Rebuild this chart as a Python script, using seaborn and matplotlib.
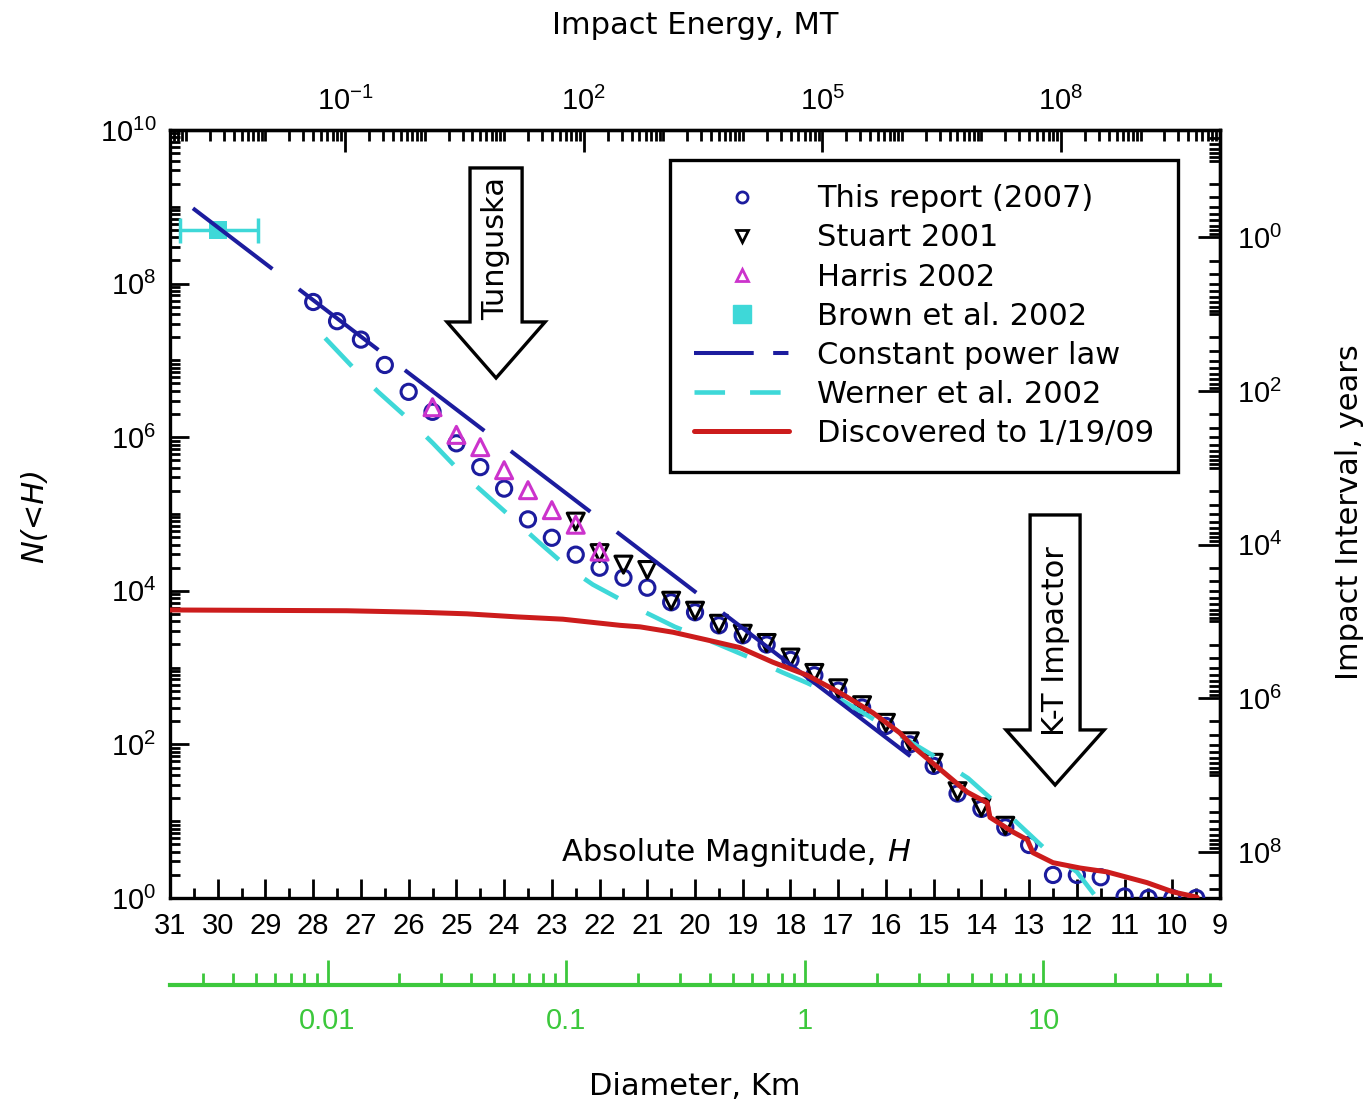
import numpy as np
import matplotlib
matplotlib.use("Agg")
import matplotlib.pyplot as plt
import seaborn as sns
from matplotlib.lines import Line2D
from matplotlib.patches import Polygon
from matplotlib.ticker import FixedLocator, FuncFormatter, NullFormatter

# ---- data (H = absolute magnitude, log10 N(<H)) ----
report_h = [28, 27.5, 27, 26.5, 26, 25.5, 25, 24.5, 24, 23.5, 23, 22.5, 22, 21.5, 21,
            20.5, 20, 19.5, 19, 18.5, 18, 17.5, 17, 16.5, 16, 15.5, 15, 14.5, 14,
            13.5, 13, 12.5, 12, 11.5, 11, 10.5, 10, 9.5]
report_logn = [7.76, 7.51, 7.27, 6.94, 6.59, 6.33, 5.92, 5.61, 5.33, 4.93, 4.69, 4.47, 4.30,
               4.17, 4.04, 3.85, 3.72, 3.55, 3.42, 3.30, 3.10, 2.90, 2.70, 2.48, 2.24,
               2.00, 1.72, 1.36, 1.16, 0.92, 0.69, 0.30, 0.30, 0.27, 0.02, 0.0, 0.0, 0.0]

stuart_h = [22.5, 22, 21.5, 21, 20.5, 20, 19.5, 19, 18.5, 18, 17.5, 17, 16.5, 16,
            15.5, 15, 14.5, 14, 13.5]
stuart_logn = [4.90, 4.49, 4.34, 4.27, 3.87, 3.74, 3.57, 3.44, 3.32, 3.13, 2.93, 2.73,
               2.51, 2.28, 2.04, 1.76, 1.39, 1.18, 0.94]

harris_h = [25.5, 25, 24.5, 24, 23.5, 23, 22.5, 22]
harris_logn = [6.39, 6.03, 5.87, 5.57, 5.31, 5.05, 4.86, 4.51]

brown_h = [30.0]
brown_logn = [8.70]
brown_herr_lo = [0.85]
brown_herr_hi = [0.80]

power_h = [30.52, 15.39]
power_logn = [8.98, 1.80]

werner_h = [27.75, 27.17, 26.64, 26.03, 25.49, 24.92, 24.0, 23.25, 22.68, 22.14, 21.57,
            21.01, 20.42, 19.5, 18.74, 18.18, 17.65, 17.11, 16.5, 15.8, 15.0, 14.28,
            13.72, 13.15, 12.6, 12.0, 11.52]
werner_logn = [7.29, 6.91, 6.59, 6.25, 5.92, 5.55, 5.04, 4.62, 4.31, 4.08, 3.89,
               3.71, 3.53, 3.30, 3.10, 2.94, 2.80, 2.64, 2.42, 2.15, 1.85, 1.56,
               1.25, 0.92, 0.60, 0.34, -0.05]

disc_h = [31, 27.3, 25.76, 24.78, 23.73, 22.77, 21.57, 21.15, 20.46, 19.75, 19.06, 18.37,
          17.65, 16.96, 16.27, 15.71, 15.43, 14.72, 14.30, 13.88, 13.82, 13.34, 13.04,
          12.92, 12.50, 11.93, 11.37, 10.95, 10.53, 9.99, 9.48]
disc_logn = [3.75, 3.74, 3.72, 3.70, 3.66, 3.63, 3.55, 3.53, 3.46, 3.36, 3.26, 3.07,
             2.90, 2.67, 2.41, 2.15, 1.97, 1.60, 1.38, 1.24, 1.05, 0.86, 0.76,
             0.59, 0.46, 0.39, 0.34, 0.27, 0.20, 0.08, 0.01]

labels = ["This report (2007)", "Stuart 2001", "Harris 2002", "Brown et al. 2002",
          "Constant power law", "Werner et al. 2002", "Discovered to 1/19/09"]

# conversions between the axes
ENERGY_ZERO = 15.4      # log10 E(MT) = 15.4 - 0.6 H
DIAM_ZERO = 17.7        # log10 D(km) = (17.7 - H) / 5
INTERVAL_CONST = 10 ** 8.6   # interval (yr) = C / N

navy = "#1c1c9e"
magenta = "#cc33cc"
cyan = "#3ed8d8"
red = "#cc1c1c"
green = "#3cc83c"
TXT = 22   # size of the wide label text

sns.set_style("ticks")
plt.rcParams["font.family"] = ["Liberation Sans", "DejaVu Sans"]
plt.rcParams["mathtext.fontset"] = "custom"
plt.rcParams["mathtext.rm"] = "Liberation Sans"
plt.rcParams["mathtext.it"] = "Liberation Sans:italic"
plt.rcParams["lines.scale_dashes"] = False
plt.rcParams["text.color"] = "black"
plt.rcParams["axes.labelcolor"] = "black"
wide = ["DejaVu Sans"]

fig = plt.figure(figsize=(13.69, 11.04), dpi=100)
ax = fig.add_axes([0.1242, 0.1866, 0.767, 0.6957])
ax.set_yscale("log")
ax.set_xlim(31, 9)
ax.set_ylim(1, 1e10)

tolin = lambda v: 10 ** np.asarray(v, dtype=float)

# markers
sns.scatterplot(x=report_h, y=tolin(report_logn), ax=ax, marker="o", s=120,
                color=navy, facecolor="none", edgecolor=navy, linewidth=2.2, zorder=3)
sns.scatterplot(x=stuart_h, y=tolin(stuart_logn), ax=ax, marker="v", s=150,
                color="black", facecolor="none", edgecolor="black", linewidth=2.2, zorder=3)
sns.scatterplot(x=harris_h, y=tolin(harris_logn), ax=ax, marker="^", s=150,
                color=magenta, facecolor="none", edgecolor=magenta, linewidth=2.2, zorder=3)
ax.errorbar(brown_h, tolin(brown_logn), xerr=[brown_herr_lo, brown_herr_hi], fmt="none",
            ecolor=cyan, elinewidth=2.5, capsize=9, capthick=2.5, zorder=3)
sns.scatterplot(x=brown_h, y=tolin(brown_logn), ax=ax, marker="s", s=170,
                color=cyan, edgecolor=cyan, linewidth=0, zorder=4)

# lines
sns.lineplot(x=werner_h, y=tolin(werner_logn), ax=ax, color=cyan, linewidth=3.3,
             sort=False, estimator=None, zorder=4)
ax.lines[-1].set_dashes([28, 23])
sns.lineplot(x=power_h, y=tolin(power_logn), ax=ax, color=navy, linewidth=2.9,
             sort=False, estimator=None, zorder=5)
ax.lines[-1].set_dashes([72, 24, 72, 24, 72, 24, 72, 24, 72, 24, 170, 24])
sns.lineplot(x=disc_h, y=tolin(disc_logn), ax=ax, color=red, linewidth=3.6,
             sort=False, estimator=None, zorder=6)

# main axes ticks
ax.xaxis.set_major_locator(FixedLocator(np.arange(9, 32)))
ax.xaxis.set_minor_locator(FixedLocator(np.arange(9.5, 31, 1.0)))
ax.xaxis.set_major_formatter(FuncFormatter(lambda v, p: "%d" % round(v)))
ax.yaxis.set_major_locator(FixedLocator([10.0 ** k for k in range(0, 11, 2)]))
ax.yaxis.set_minor_locator(FixedLocator([m * 10.0 ** k for k in range(0, 10) for m in range(1, 10)]))
ax.yaxis.set_major_formatter(FuncFormatter(lambda v, p: r"$10^{%d}$" % round(np.log10(v))))
ax.yaxis.set_minor_formatter(NullFormatter())
ax.tick_params(which="both", direction="in", width=2, labelsize=21, colors="black",
               top=False, right=False)
ax.tick_params(which="major", length=14, pad=10)
ax.tick_params(which="minor", length=7)
for s in ax.spines.values():
    s.set_linewidth(2.4)
    s.set_color("black")
    s.set_visible(True)
ax.set_xlabel("")
ax.set_ylabel("")


def h_to_energy(h):
    return 10 ** (ENERGY_ZERO - 0.6 * np.asarray(h, dtype=float))


def energy_to_h(e):
    e = np.clip(np.asarray(e, dtype=float), 1e-300, None)
    return (ENERGY_ZERO - np.log10(e)) / 0.6


def h_to_diam(h):
    return 10 ** ((DIAM_ZERO - np.asarray(h, dtype=float)) / 5)


def diam_to_h(d):
    d = np.clip(np.asarray(d, dtype=float), 1e-300, None)
    return DIAM_ZERO - 5 * np.log10(d)


def n_to_interval(n):
    n = np.clip(np.asarray(n, dtype=float), 1e-300, None)
    return INTERVAL_CONST / n


def interval_to_n(t):
    t = np.clip(np.asarray(t, dtype=float), 1e-300, None)
    return INTERVAL_CONST / t


pow_fmt = FuncFormatter(lambda v, p: r"$10^{%d}$" % round(np.log10(v)))

# top: impact energy
top = ax.secondary_xaxis("top", functions=(h_to_energy, energy_to_h))
top.xaxis.set_major_locator(FixedLocator([1e-1, 1e2, 1e5, 1e8]))
top.xaxis.set_minor_locator(FixedLocator([m * 10.0 ** k for k in range(-4, 11) for m in range(1, 10)]))
top.xaxis.set_major_formatter(pow_fmt)
top.xaxis.set_minor_formatter(NullFormatter())
top.tick_params(which="both", direction="in", width=2, labelsize=21, colors="black")
top.tick_params(which="major", length=16, pad=10)
top.tick_params(which="minor", length=8)
top.spines["top"].set_linewidth(2.4)

# right: impact interval
right = ax.secondary_yaxis("right", functions=(n_to_interval, interval_to_n))
right.yaxis.set_major_locator(FixedLocator([10.0 ** k for k in range(0, 9, 2)]))
right.yaxis.set_minor_locator(FixedLocator([m * 10.0 ** k for k in range(-2, 9) for m in range(1, 10)]))
right.yaxis.set_major_formatter(pow_fmt)
right.yaxis.set_minor_formatter(NullFormatter())
right.tick_params(which="both", direction="in", width=2, labelsize=21, colors="black")
right.tick_params(which="major", length=16, pad=12)
right.tick_params(which="minor", length=8)
right.spines["right"].set_linewidth(2.4)

# bottom (green): diameter
diam = ax.secondary_xaxis(-0.1133, functions=(h_to_diam, diam_to_h))
diam.xaxis.set_major_locator(FixedLocator([0.01, 0.1, 1, 10]))
diam.xaxis.set_minor_locator(FixedLocator([m * 10.0 ** k for k in range(-3, 2) for m in range(1, 10)]))
diam.xaxis.set_major_formatter(FuncFormatter(lambda v, p: "%g" % v))
diam.xaxis.set_minor_formatter(NullFormatter())
diam.tick_params(which="both", direction="in", width=2, labelsize=21, colors=green)
diam.tick_params(which="major", length=18, pad=16)
diam.tick_params(which="minor", length=9)
diam.spines["bottom"].set_color(green)
diam.spines["bottom"].set_linewidth(3)


# block arrows
def block_arrow(xc, half_box, half_head, top_y, shoulder, tip, text, text_y):
    pts = [(xc - half_box, top_y), (xc + half_box, top_y), (xc + half_box, shoulder),
           (xc + half_head, shoulder), (xc, tip), (xc - half_head, shoulder),
           (xc - half_box, shoulder)]
    ax.add_patch(Polygon(pts, closed=True, transform=ax.transAxes, facecolor="white",
                         edgecolor="black", linewidth=2.4, zorder=7))
    ax.text(xc, text_y, text, transform=ax.transAxes, rotation=90, ha="center",
            va="center", fontsize=TXT, family=wide, zorder=8)


block_arrow(0.3105, 0.0248, 0.0467, 0.9505, 0.750, 0.677, "Tunguska", 0.845)
block_arrow(0.8429, 0.0238, 0.0467, 0.4987, 0.2188, 0.1471, "K-T Impactor", 0.334)

# in-plot axis title for the magnitude scale
ax.text(0.673, 0.0586, "Absolute Magnitude,", transform=ax.transAxes,
        ha="right", va="center", fontsize=TXT, family=wide)
ax.text(0.694, 0.0586, "H", transform=ax.transAxes, ha="center", va="center",
        fontsize=TXT, family=wide, style="italic")

# legend
handles = [
    Line2D([], [], ls="none", marker="o", ms=8, mfc="none", mec=navy, mew=2),
    Line2D([], [], ls="none", marker="v", ms=9, mfc="none", mec="black", mew=2),
    Line2D([], [], ls="none", marker="^", ms=9, mfc="none", mec=magenta, mew=2),
    Line2D([], [], ls="none", marker="s", ms=13, mfc=cyan, mec=cyan),
    Line2D([], [], color=navy, lw=2.9, dashes=[43, 14, 11, 14]),
    Line2D([], [], color=cyan, lw=3.3, dashes=[22, 18]),
    Line2D([], [], color=red, lw=3.6),
]
leg = ax.legend(handles, labels, loc="upper left", bbox_to_anchor=(0.4762, 0.961),
                borderaxespad=0, frameon=True, fancybox=False, framealpha=1,
                edgecolor="black", prop={"family": wide, "size": TXT},
                handlelength=3.1, handletextpad=0.9, labelspacing=0.33, borderpad=0.8)
leg.get_frame().set_linewidth(2.4)
leg.set_zorder(9)

fig.text(0.5077, 0.977, "Impact Energy, MT", ha="center", va="center", fontsize=TXT,
         family=wide)
fig.text(0.5077, 0.0154, "Diameter, Km", ha="center", va="center", fontsize=TXT,
         family=wide)
fig.text(0.0256, 0.5335, "N(<H)", ha="center", va="center", fontsize=TXT,
         family=wide, style="italic", rotation=90)
fig.text(0.986, 0.536, "Impact Interval, years", ha="center", va="center",
         fontsize=TXT, family=wide, rotation=90)

fig.savefig("out.png", dpi=100)
